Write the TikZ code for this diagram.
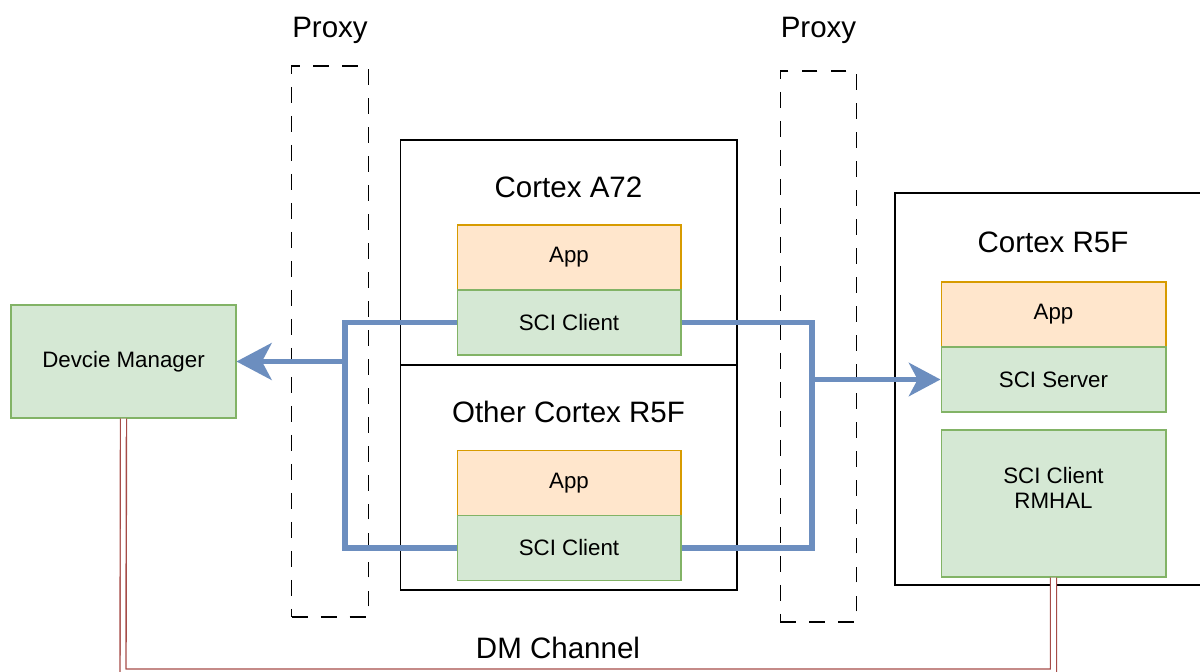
\documentclass[tikz,border=0pt]{standalone}
\usepackage{fontspec}
\setmainfont{Liberation Sans}
\usetikzlibrary{arrows.meta}
\definecolor{appfill}{HTML}{FFE6CC}
\definecolor{appdraw}{HTML}{D79B00}
\definecolor{scifill}{HTML}{D5E8D4}
\definecolor{scidraw}{HTML}{82B366}
\definecolor{busblue}{HTML}{6C8EBF}
\definecolor{dmred}{HTML}{B85450}
\begin{document}
\begin{tikzpicture}[x=.02cm, y=-.02cm, line width=.6pt,
	big/.style={font=\fontsize{16.8}{20}\selectfont},
	small/.style={font=\fontsize{12.7}{14.2}\selectfont},
	core/.style={draw=black, minimum width=6.74cm, minimum height=4.5cm},
	proxy/.style={draw=black, dash pattern=on 9pt off 7.5pt, line width=.75pt, minimum width=1.53cm, minimum height=11.02cm},
	appbox/.style={small, draw=appdraw, fill=appfill, minimum width=4.48cm, minimum height=1.3cm, inner sep=0pt},
	scibox/.style={small, draw=scidraw, fill=scifill, minimum width=4.48cm, minimum height=1.3cm, inner sep=0pt},
	bus/.style={draw=busblue, line width=2.9pt},
	dmline/.style={draw=dmred!90!black, line width=.8pt, double=white, double distance=2.6pt}]
	\useasboundingbox (0,0) rectangle (1200,672);
	\clip (0,0) rectangle (1200,672);
	% proxies
	\node[proxy]  (pxl)   at (330,341.5)   {};
	\node[proxy]  (pxr)   at (818.5,346.5) {};
	\node[big]    (pxlt)  at (330,30)      {Proxy};
	\node[big]    (pxrt)  at (818.5,30)    {Proxy};
	% cores in the middle
	\node[core]   (a72)   at (568.5,252.5) {};
	\node[core]   (oth)   at (568.5,477.5) {};
	\node[big]    (a72t)  at (568.5,187)   {Cortex A72};
	\node[big]    (otht)  at (568.5,412)   {Other Cortex R5F};
	\node[appbox] (a72app) at (569,257.5)  {App};
	\node[scibox] (a72sci) at (569,322.5)  {SCI Client};
	\node[appbox] (othapp) at (569,483)    {App};
	\node[scibox] (othsci) at (569,548)    {SCI Client};
	% device manager
	\node[scibox, minimum width=4.5cm, minimum height=2.26cm] (dm) at (123.5,361.5) {Devcie Manager};
	% cortex r5f on the right
	\draw (1200,193) -- (895,193) -- (895,585) -- (1200,585);
	\node[big]    (r5t)   at (1053,242)    {Cortex R5F};
	\node[appbox, minimum width=4.5cm] (srvapp) at (1053.5,314.5) {App};
	\node[scibox, minimum width=4.5cm] (srv)    at (1053.5,379.5) {SCI Server};
	\node[scibox, minimum width=4.5cm, minimum height=2.94cm,
		label={[small, anchor=north, align=center, yshift=-18pt]north:SCI Client\\RMHAL}] (rmhal) at (1053.5,503.5) {};
	% sci buses
	\coordinate (lj) at (345,361.5);
	\coordinate (rj) at (812,379.5);
	\draw[bus] (a72sci.west) -| (lj) |- (othsci.west);
	\draw[bus, -{Stealth[length=20pt, width=21pt, inset=5.5pt]}] (lj) -- (dm.east);
	\draw[bus] (a72sci.east) -| (rj) |- (othsci.east);
	\draw[bus, -{Stealth[length=18pt, width=19pt, inset=5pt]}] (rj) -- (srv.west);
	% dm channel
	\coordinate (dmb) at (123,672);
	\draw[dmline] (dm.south) -- (dmb) -| (rmhal.south);
	\node[big, fill=white, inner sep=1pt] (dmt) at (558,648) {DM Channel};
\end{tikzpicture}
\end{document}
